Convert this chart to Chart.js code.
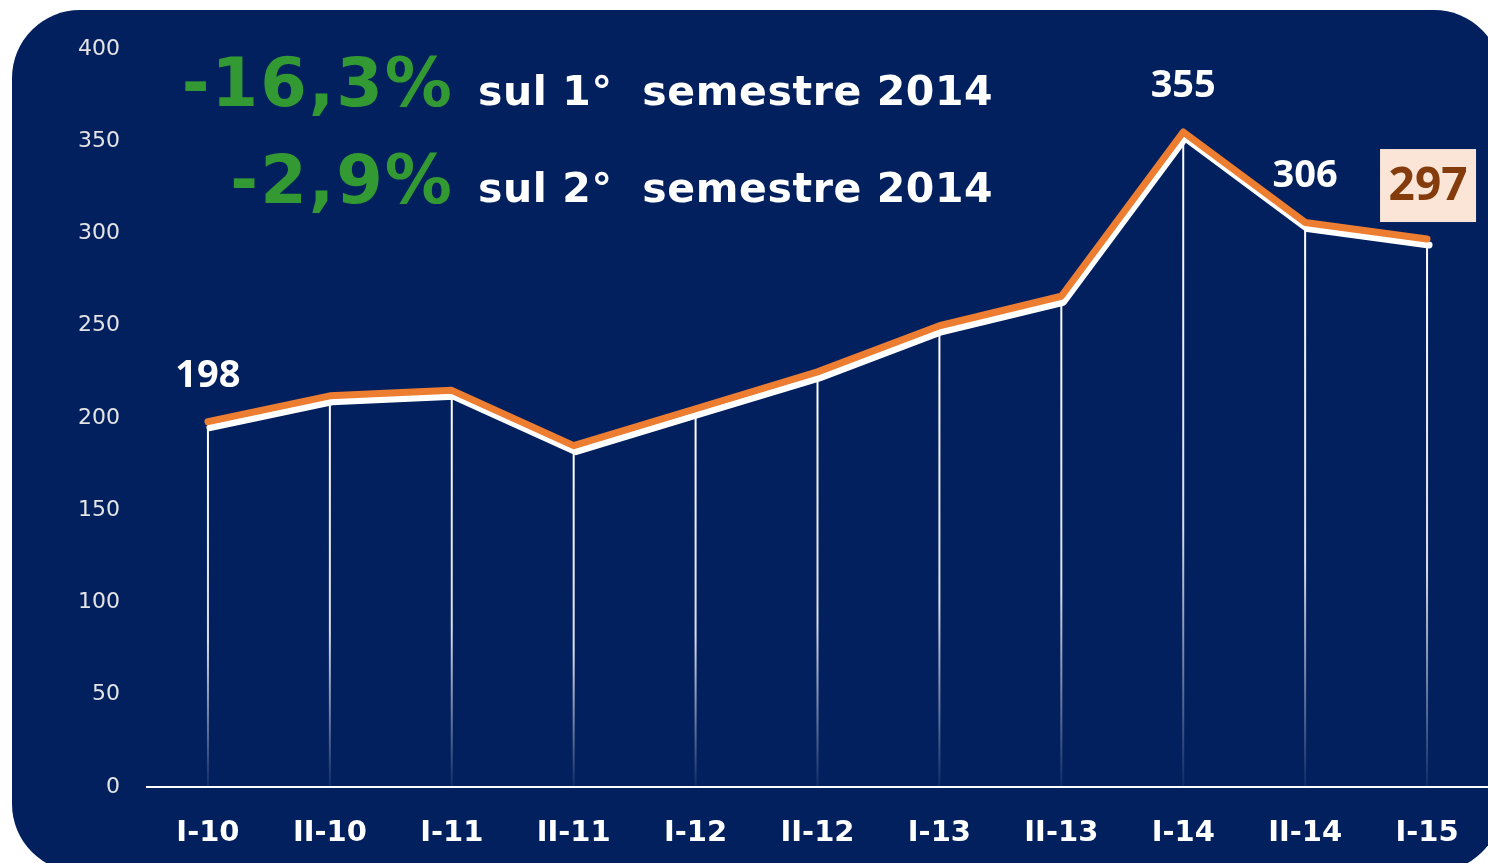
<!DOCTYPE html>
<html>
<head>
<meta charset="utf-8">
<script src="https://cdn.jsdelivr.net/npm/chart.js@4/dist/chart.umd.min.js"></script>
<style>
  html, body { margin: 0; padding: 0; background: #fff; }
  #wrap { width: 1488px; height: 863px; position: relative; }
</style>
</head>
<body>
<div id="wrap"><canvas id="grafico"></canvas></div>
<script>
// Dati — semestri e valori
const semestri = ['I-10', 'II-10', 'I-11', 'II-11', 'I-12', 'II-12', 'I-13', 'II-13', 'I-14', 'II-14', 'I-15'];
const valori   = [198, 212, 215, 185, 205, 225, 250, 266, 355, 306, 297];
const etichetteVisibili = [0, 8, 9, 10];   // punti con valore scritto
const ultimoEvidenziato = 10;              // valore nel box
const yTicks = [0, 50, 100, 150, 200, 250, 300, 350, 400];
const righeTitolo = [
  { var: '-16,3%', testo: 'sul 1°  semestre 2014' },
  { var: '-2,9%',  testo: 'sul 2°  semestre 2014' },
];

const NAVY = '#02205e';
const ORANGE = '#ed7d31';

// sfondo blu con angoli arrotondati
const pannello = {
  id: 'pannello',
  beforeDraw(chart) {
    const c = chart.ctx;
    c.save();
    c.fillStyle = NAVY;
    c.beginPath();
    c.roundRect(12, 10, 1490, 862, 68);
    c.fill();
    c.restore();
  }
};

// linee verticali dai punti all'asse + ombra bianca della linea
const lineeVerticali = {
  id: 'lineeVerticali',
  beforeDatasetsDraw(chart) {
    const c = chart.ctx;
    const base = chart.scales.y.getPixelForValue(0);
    chart.getDatasetMeta(0).data.forEach(p => {
      const g = c.createLinearGradient(0, p.y, 0, base);
      g.addColorStop(0, 'rgba(255,255,255,1)');
      g.addColorStop(0.6, 'rgba(255,255,255,0.85)');
      g.addColorStop(1, 'rgba(255,255,255,0.05)');
      c.save();
      c.strokeStyle = g;
      c.lineWidth = 2;
      c.beginPath();
      c.moveTo(p.x, p.y + 4);
      c.lineTo(p.x, base);
      c.stroke();
      c.restore();
    });
    c.save();
    c.shadowColor = '#ffffff';
    c.shadowBlur = 0;
    c.shadowOffsetX = 2;
    c.shadowOffsetY = 6;
  },
  afterDatasetsDraw(chart) {
    chart.ctx.restore();
  }
};

// etichette valori e titolo
const testi = {
  id: 'testi',
  afterDraw(chart) {
    const c = chart.ctx;
    const pts = chart.getDatasetMeta(0).data;
    c.save();
    c.textAlign = 'center';
    c.textBaseline = 'middle';
    etichetteVisibili.forEach(i => {
      const p = pts[i];
      if (i === ultimoEvidenziato) {
        c.fillStyle = '#fbe5d6';
        c.fillRect(p.x - 47, p.y - 90, 96, 73);
        c.fillStyle = '#843c0c';
        c.font = 'bold 46px "Open Sans"';
        c.fillText(String(valori[i]), p.x + 1, p.y - 52);
      } else {
        c.fillStyle = '#ffffff';
        c.font = 'bold 38px "Open Sans"';
        c.fillText(String(valori[i]), p.x, p.y - 46);
      }
    });

    c.textBaseline = 'alphabetic';
    const basi = [106, 203];
    righeTitolo.forEach((r, k) => {
      c.textAlign = 'right';
      c.fillStyle = '#339933';
      c.font = 'bold 67px "DejaVu Sans"';
      c.letterSpacing = '2px';
      c.fillText(r.var, 454, basi[k]);
      c.textAlign = 'left';
      c.fillStyle = '#ffffff';
      c.font = 'bold 41px "DejaVu Sans"';
      c.letterSpacing = '0.6px';
      c.fillText(r.testo, 478, basi[k] - 1);
      c.letterSpacing = '0px';
    });
    c.restore();
  }
};

new Chart(document.getElementById('grafico'), {
  type: 'line',
  data: {
    labels: semestri,
    datasets: [{
      data: valori,
      borderColor: ORANGE,
      borderWidth: 7,
      borderCapStyle: 'round',
      borderJoinStyle: 'round',
      tension: 0,
      pointRadius: 0,
      fill: false,
    }]
  },
  options: {
    responsive: true,
    maintainAspectRatio: false,
    animation: false,
    layout: { padding: { top: 49, left: 0, right: 0, bottom: 0 } },
    plugins: {
      legend: { display: false },
      tooltip: { enabled: false }
    },
    scales: {
      x: {
        offset: true,
        grid: { display: false, drawTicks: false },
        border: { display: true, color: '#ffffff', width: 2 },
        ticks: { color: '#ffffff', font: { family: 'DejaVu Sans', size: 29, weight: 'bold' }, padding: 29, maxRotation: 0 },
        afterFit: s => { s.height = 76; }
      },
      y: {
        min: 0, max: 400,
        afterBuildTicks: s => { s.ticks = yTicks.map(v => ({ value: v })); },
        grid: { display: false, drawTicks: false },
        border: { display: false },
        ticks: { color: '#e4e4e4', font: { family: 'DejaVu Sans', size: 22 }, padding: 27 },
        afterFit: s => { s.width = 147; }
      }
    }
  },
  plugins: [pannello, lineeVerticali, testi]
});
</script>
</body>
</html>
